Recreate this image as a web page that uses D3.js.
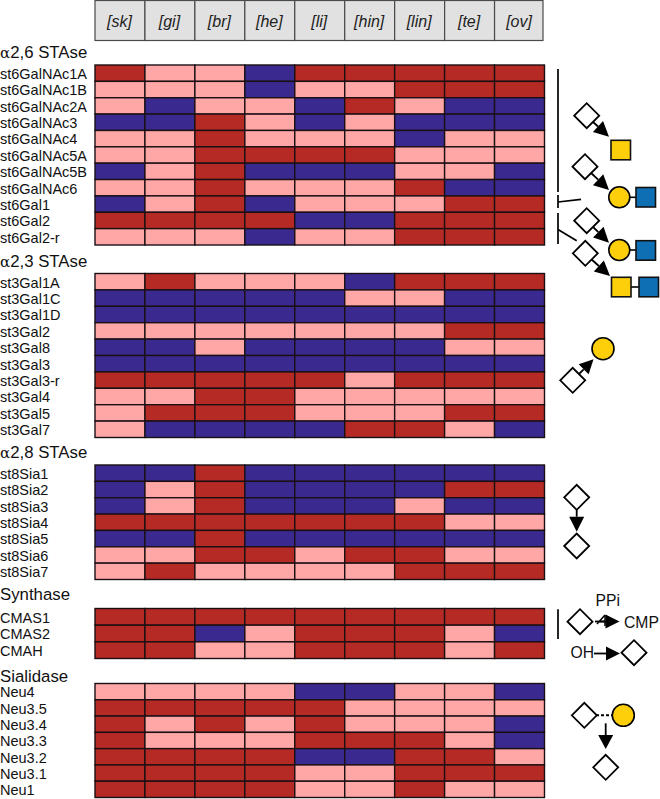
<!DOCTYPE html>
<html><head><meta charset="utf-8">
<script src="https://cdn.jsdelivr.net/npm/d3@7"></script>
<style>html,body{margin:0;padding:0;background:#fff}svg{display:block}text{font-family:"Liberation Sans",Arial,sans-serif;fill:#111}</style>
</head><body><svg id="c" width="660" height="799"></svg>
<script>
const tissues = ["[sk]","[gi]","[br]","[he]","[li]","[hin]","[lin]","[te]","[ov]"];
const levelColors = {H:"#b52a24",P:"#ffa6a6",B:"#3a2a90"};

const st6Genes = ["st6GalNAc1A","st6GalNAc1B","st6GalNAc2A","st6GalNAc3","st6GalNAc4","st6GalNAc5A","st6GalNAc5B","st6GalNAc6","st6Gal1","st6Gal2","st6Gal2-r"];
const st6Levels = ["HPPBHHHHH","PPPBPPHHH","PBPPBHPBB","BBHPBPBBB","PPHPPPBPP","PPHHHHPPP","BPHBBBPPB","PPHPPPHBB","BPHBPPPHH","HHHHBBHHH","PPPBPPHHH"];

const st3Genes = ["st3Gal1A","st3Gal1C","st3Gal1D","st3Gal2","st3Gal8","st3Gal3","st3Gal3-r","st3Gal4","st3Gal5","st3Gal7"];
const st3Levels = ["PHPPPBHHH","BBBBBPPBB","BBBBBBBBB","PPPPPPPHH","BBPBBBBPP","BBBBBBBBB","HHHHHPHHH","PPHHPPPPP","PHHHPPPHH","PBBBBHHPB"];

const st8Genes = ["st8Sia1","st8Sia2","st8Sia3","st8Sia4","st8Sia5","st8Sia6","st8Sia7"];
const st8Levels = ["BBHBBBBBB","BPHBBBBHH","BPHBBBPBB","HHHHHHHPP","BBHBBBBBB","PPHHPHHPP","PHPPPPHHH"];

const synGenes = ["CMAS1","CMAS2","CMAH"];
const synLevels = ["HHHHHHHHH","HHBPHHHPB","HHPPHHHPH"];

const neuGenes = ["Neu4","Neu3.5","Neu3.4","Neu3.3","Neu3.2","Neu3.1","Neu1"];
const neuLevels = ["PPPPBBPPB","HHHHHPPPP","HPHPHPPPB","HPPPHHHPB","HHHHBBHHP","HHHHPPHHH","HHHHPPHPP"];

const panels = [
  {a:"2,6 STAse",genes:st6Genes,levels:st6Levels,top:65,bottom:245,base:58},
  {a:"2,3 STAse",genes:st3Genes,levels:st3Levels,top:273.5,bottom:437.5,base:266.5},
  {a:"2,8 STAse",genes:st8Genes,levels:st8Levels,top:465,bottom:579.5,base:458},
  {t:"Synthase",genes:synGenes,levels:synLevels,top:608.5,bottom:658.5,base:600},
  {t:"Sialidase",genes:neuGenes,levels:neuLevels,top:683.5,bottom:797.5,base:681.5}
];

const svg = d3.select("#c");
const x = d3.scaleBand().domain(tissues).range([95,544.5]);
const color = d3.scaleOrdinal().domain(Object.keys(levelColors)).range(Object.values(levelColors));

// header
const head = svg.append("g");
head.selectAll("rect").data(tissues).join("rect")
  .attr("x",d=>x(d)).attr("y",0.5).attr("width",d=>d==="[ov]"?x.bandwidth()-1.5:x.bandwidth()).attr("height",40)
  .attr("fill","#e1e1e1").attr("stroke","#4a4a4a").attr("stroke-width",1.2);
head.selectAll("text").data(tissues).join("text")
  .attr("x",d=>x(d)+x.bandwidth()/2-0.5).attr("y",27).attr("text-anchor","middle")
  .attr("font-size",16).attr("font-style","italic").style("fill","#222").text(d=>d);

// panels
panels.forEach(p=>{
  const g = svg.append("g");
  const y = d3.scaleBand().domain(p.genes).range([p.top,p.bottom]);
  const title = g.append("text").attr("x",0).attr("y",p.base).attr("font-size",16.8);
  if(p.a){
    title.append("tspan").style("font-family","'DejaVu Serif','Liberation Serif',serif").attr("font-size",15).text("\u03B1");
    title.append("tspan").text(p.a);
  } else title.text(p.t);
  g.selectAll("text.gene").data(p.genes).join("text").attr("class","gene")
    .attr("x",0).attr("y",d=>y(d)+y.bandwidth()/2+5.8).attr("font-size",14.5).text(d=>d);
  const cells = p.genes.flatMap((gene,i)=>tissues.map((t,j)=>({gene,t,v:p.levels[i][j]})));
  g.selectAll("rect").data(cells).join("rect")
    .attr("x",d=>x(d.t)).attr("y",d=>y(d.gene))
    .attr("width",x.bandwidth()).attr("height",y.bandwidth())
    .attr("fill",d=>color(d.v)).attr("stroke","#1a1014").attr("stroke-width",1.4);
});

// pathway annotations
const ann = svg.append("g");
const yellow="#fdcf0a", blue="#0f6fb5";
function line(x1,y1,x2,y2,w=1.6,dash){const l=ann.append("line").attr("x1",x1).attr("y1",y1).attr("x2",x2).attr("y2",y2).attr("stroke","#000").attr("stroke-width",w);if(dash)l.attr("stroke-dasharray",dash);}
function diamond(cx,cy,r=12.5){ann.append("path").attr("d",`M${cx-r},${cy}L${cx},${cy-r}L${cx+r},${cy}L${cx},${cy+r}Z`).attr("fill","#fff").attr("stroke","#000").attr("stroke-width",1.8);}
function square(x0,y0,c){ann.append("rect").attr("x",x0).attr("y",y0).attr("width",19.5).attr("height",19.5).attr("fill",c).attr("stroke","#111").attr("stroke-width",1.6);}
function circle(cx,cy,c,r=10.5){ann.append("circle").attr("cx",cx).attr("cy",cy).attr("r",r).attr("fill",c).attr("stroke","#000").attr("stroke-width",1.6);}
function arrow(x1,y1,tx,ty,len=14,hw=7){
  const a=Math.atan2(ty-y1,tx-x1),c=Math.cos(a),s=Math.sin(a),bx=tx-len*c,by=ty-len*s;
  line(x1,y1,bx,by,1.8);
  ann.append("path").attr("d",`M${tx},${ty}L${bx-hw*s},${by+hw*c}L${bx+hw*s},${by-hw*c}Z`).attr("fill","#000");
}
function label(s,xx,yy){ann.append("text").attr("x",xx).attr("y",yy).attr("font-size",15.7).text(s);}

// brackets
line(558,69,558,192,1.7); line(558,195,558,208,1.7); line(558,202,581,199.3,1.7);
line(558,213,558,244,1.7); line(558,229.5,576.7,240.7,1.7); line(558,609.3,558,639,1.7);

// alpha2,6 glycans
arrow(592,121,609,136.7,15,7.5); diamond(586.7,115.7); square(611,140.3,yellow);
arrow(590,172,609,190,15,7.5); diamond(585,166.7);
line(625,197.3,640,197.3); circle(619.3,197.3,yellow); square(636,187.5,blue);
arrow(592,226,609,242.7,15,7.5); diamond(586.7,220.7);
line(625,250,640,250); circle(619.3,250,yellow); square(636,240.7,blue);
arrow(590,258,610,276,15,7.5); diamond(585.3,253.3);
line(628,287,642,287); square(611.5,277.3,yellow); square(639,277.3,blue);

// alpha2,3
arrow(577,376,593.5,359.3,14,7); diamond(572.7,380.3); circle(603,348.7,yellow,11);

// alpha2,8
arrow(576.7,508,576.7,531.7,15,7.5); diamond(576.7,497.3); diamond(576.7,546);

// synthase
line(595,621.5,610,621.5,1.8); line(597,624,605,615,1.5); line(605,615,605,626,1.5);
arrow(600,621.5,619.5,621.5,14,7); diamond(580,621.7);
label("PPi",595.5,606); label("CMP",624,627.7);
label("OH",570.5,658.3);
arrow(594,653.5,620,653.5,14,7); diamond(634,652.7);

// sialidase
line(596,715.3,612,715.3,2,"3 2"); diamond(584.3,715.3); circle(623.3,715.3,yellow,11);
arrow(605.7,723.3,605.7,749,14,7.5); diamond(605.7,767.3);
</script></body></html>
